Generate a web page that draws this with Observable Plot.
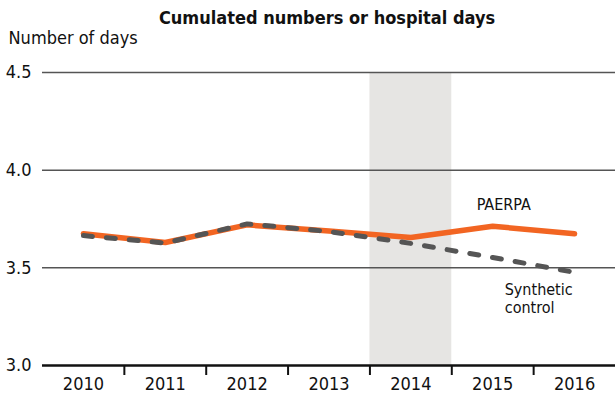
<!DOCTYPE html>
<html><head><meta charset="utf-8">
<script src="https://cdn.jsdelivr.net/npm/d3@7"></script>
<script src="https://cdn.jsdelivr.net/npm/@observablehq/plot@0.6"></script>
<style>
html,body{margin:0;padding:0;background:#fff;}
#chart{position:relative;width:615px;height:402px;}
svg{font-family:"Liberation Sans Narrow","DejaVu Sans Condensed","Roboto Condensed",sans-serif;font-stretch:condensed;}
</style></head>
<body><div id="chart"></div>
<script>
const years = [2010, 2011, 2012, 2013, 2014, 2015, 2016];
const paerpa = [3.675, 3.630, 3.720, 3.688, 3.655, 3.713, 3.674];
const synthetic = [3.665, 3.627, 3.725, 3.686, 3.625, 3.553, 3.477];
const yTicks = [3.0, 3.5, 4.0, 4.5];
const treatmentYear = [2014];
const title = "Cumulated numbers or hospital days";
const yLabel = "Number of days";
const seriesLabels = ["PAERPA", "Synthetic\ncontrol"];

const orange = "#f26522";
const grey = "#555555";
const paerpaData = years.map((y, i) => ({year: y, value: paerpa[i]}));
const synthData = years.map((y, i) => ({year: y, value: synthetic[i]}));
const boundaries = years.slice(1).map(y => y - 0.5);
const fontSize = 18;

const chart = Plot.plot({
  width: 615, height: 402,
  marginLeft: 42, marginRight: 0, marginTop: 72, marginBottom: 37,
  style: {fontSize: fontSize + "px", color: "#111"},
  x: {type: "linear", domain: [years[0] - 0.5, years[years.length - 1] + 0.5]},
  y: {domain: [3, 4.5]},
  marks: [
    Plot.rectY(treatmentYear, {x1: d => d - 0.5, x2: d => d + 0.5, y1: 3, y2: 4.5, fill: "#e6e5e3"}),
    Plot.ruleY(yTicks.filter(d => d > 3), {stroke: grey, strokeWidth: 1.5}),
    Plot.ruleY([3], {stroke: "#111", strokeWidth: 2.5}),
    Plot.axisY({ticks: yTicks, tickSize: 0, tickPadding: 11, tickFormat: d3.format(".1f"), label: null, fontSize: fontSize}),
    Plot.axisX({ticks: boundaries, tickSize: 10, tickFormat: () => "", label: null, stroke: "#111", strokeWidth: 2}),
    Plot.axisX({ticks: years, tickSize: 0, tickPadding: 12, tickFormat: d => String(d), label: null, fontSize: fontSize}),
    Plot.lineY(paerpaData, {x: "year", y: "value", stroke: orange, strokeWidth: 5.5, strokeLinecap: "round"}),
    Plot.lineY(synthData, {x: "year", y: "value", stroke: grey, strokeWidth: 5, strokeDasharray: "9,14", strokeLinecap: "round"}),
    Plot.text([paerpaData[5]], {x: "year", y: "value", text: () => seriesLabels[0], textAnchor: "start", dx: -16, dy: -21, fontSize: 16, fill: "#111"}),
    Plot.text([synthData[5]], {x: "year", y: "value", text: () => seriesLabels[1], textAnchor: "start", lineAnchor: "top", dx: 12, dy: 24, lineHeight: 1.15, fontSize: 16, fill: "#111"}),
    Plot.text([title], {frameAnchor: "top", dy: -54, dx: -2, fontWeight: "bold", fontSize: 18, fill: "#111", lineAnchor: "middle"}),
    Plot.text([yLabel], {frameAnchor: "top-left", dx: -34, dy: -34, textAnchor: "start", fontSize: 18, fill: "#111", lineAnchor: "middle"})
  ]
});
document.getElementById("chart").appendChild(chart);
</script></body></html>
